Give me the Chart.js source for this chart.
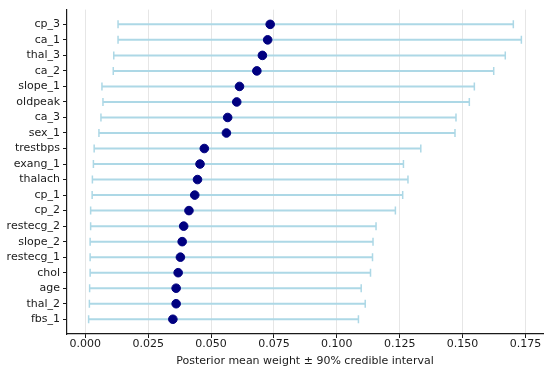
<!DOCTYPE html>
<html>
<head>
<meta charset="utf-8">
<script src="https://cdn.jsdelivr.net/npm/chart.js@4"></script>
<style>
  html, body { margin: 0; padding: 0; background: #fff; }
  #wrap { width: 550px; height: 372px; }
</style>
</head>
<body>
<div id="wrap"><canvas id="chart" width="550" height="372"></canvas></div>
<script>
const features = ["cp_3", "ca_1", "thal_3", "ca_2", "slope_1", "oldpeak", "ca_3", "sex_1", "trestbps", "exang_1",
  "thalach", "cp_1", "cp_2", "restecg_2", "slope_2", "restecg_1", "chol", "age", "thal_2", "fbs_1"];
const meanWeight = [0.0735, 0.0725, 0.0704, 0.0682, 0.0613, 0.0602, 0.0566, 0.0561, 0.0473, 0.0456,
  0.0446, 0.0435, 0.0412, 0.0391, 0.0385, 0.0378, 0.0369, 0.0361, 0.0361, 0.0348];
const lower90 = [0.0130, 0.0130, 0.0113, 0.0111, 0.0066, 0.0070, 0.0062, 0.0054, 0.0035, 0.0032,
  0.0028, 0.0027, 0.0021, 0.0021, 0.0019, 0.0019, 0.0019, 0.0017, 0.0016, 0.0013];
const upper90 = [0.1702, 0.1734, 0.1670, 0.1624, 0.1547, 0.1527, 0.1474, 0.1470, 0.1334, 0.1265,
  0.1283, 0.1262, 0.1233, 0.1156, 0.1144, 0.1142, 0.1134, 0.1097, 0.1113, 0.1086];
const xTicks = [0, 0.025, 0.05, 0.075, 0.1, 0.125, 0.15, 0.175];

const FONT = "'DejaVu Sans', sans-serif";

// one small line dataset per feature: the interval, with caps drawn as rotated line points
const intervalSets = features.map((name, i) => ({
  type: 'line',
  data: [{x: lower90[i], y: i}, {x: upper90[i], y: i}],
  borderColor: '#add8e6',
  borderWidth: 2,
  pointStyle: 'line',
  rotation: 90,
  pointRadius: 4,
  pointBorderWidth: 1.5,
  pointBorderColor: '#add8e6',
  pointHoverRadius: 4,
  order: 2
}));

const meanSet = {
  type: 'scatter',
  data: meanWeight.map((v, i) => ({x: v, y: i})),
  backgroundColor: '#000080',
  borderColor: '#000080',
  pointRadius: 4.3,
  pointHoverRadius: 4.3,
  order: 1
};

new Chart(document.getElementById('chart').getContext('2d'), {
  type: 'scatter',
  data: {datasets: [...intervalSets, meanSet]},
  options: {
    responsive: false,
    animation: false,
    events: [],
    layout: {padding: {left: 0, right: 7, top: 8, bottom: 0}},
    plugins: {legend: {display: false}, tooltip: {enabled: false}},
    scales: {
      x: {
        type: 'linear',
        min: -0.0073,
        max: 0.182,
        afterBuildTicks: (scale) => { scale.ticks = xTicks.map(v => ({value: v})); },
        afterFit: (scale) => { scale.height = 38; },
        ticks: {
          color: '#1a1a1a',
          font: {family: FONT, size: 11},
          padding: 0,
          maxRotation: 0,
          callback: (v) => v.toFixed(3)
        },
        grid: {color: '#e6e6e6', lineWidth: 1, tickColor: '#1a1a1a', tickLength: 4},
        border: {color: '#1a1a1a', width: 1.2},
        title: {
          display: true,
          text: 'Posterior mean weight ± 90% credible interval',
          color: '#1a1a1a',
          font: {family: FONT, size: 11},
          padding: {top: 0, bottom: 4}
        }
      },
      y: {
        type: 'linear',
        reverse: true,
        min: -0.95,
        max: 19.95,
        afterBuildTicks: (scale) => { scale.ticks = features.map((f, i) => ({value: i})); },
        afterFit: (scale) => { scale.width = 67; },
        ticks: {
          color: '#1a1a1a',
          font: {family: FONT, size: 11},
          padding: 3,
          callback: (v) => features[v]
        },
        grid: {drawOnChartArea: false, tickColor: '#1a1a1a', tickLength: 4},
        border: {color: '#1a1a1a', width: 1.2}
      }
    }
  }
});
</script>
</body>
</html>
